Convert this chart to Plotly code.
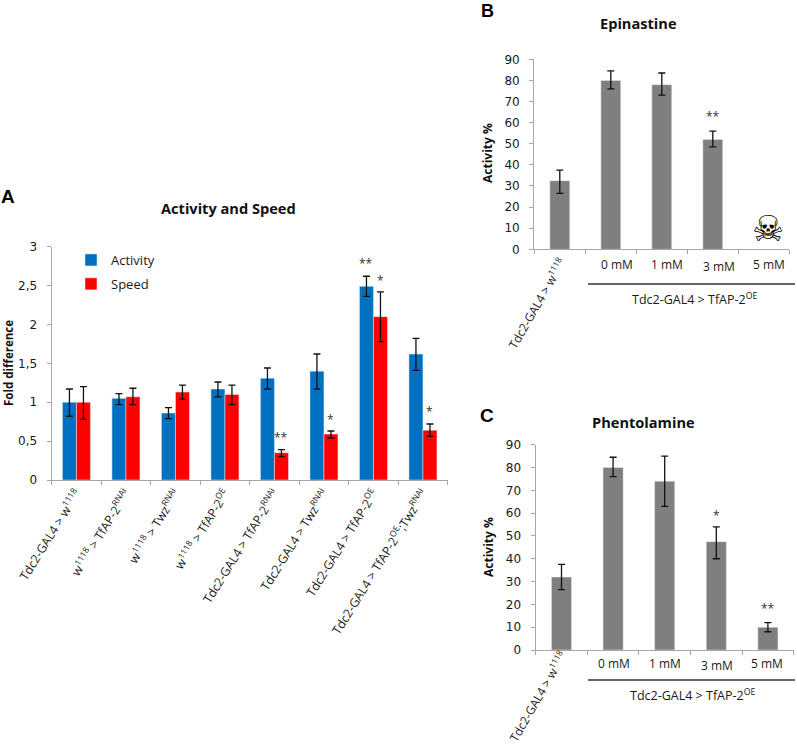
import plotly.graph_objects as go

W, H = 797, 750
# ---------- data ----------
genotypes = ["Tdc2-GAL4 > w<sup>1118</sup>", "w<sup>1118</sup> > TfAP-2<sup>RNAi</sup>", "w<sup>1118</sup> > Twz<sup>RNAi</sup>",
             "w<sup>1118</sup> > TfAP-2<sup>OE</sup>", "Tdc2-GAL4 > TfAP-2<sup>RNAi</sup>", "Tdc2-GAL4 > Twz<sup>RNAi</sup>",
             "Tdc2-GAL4 > TfAP-2<sup>OE</sup>", "Tdc2-GAL4 > TfAP-2<sup>OE</sup>;Twz<sup>RNAi</sup>"]
activity = [1.0, 1.05, 0.86, 1.17, 1.31, 1.40, 2.49, 1.62]
activity_hi = [1.17, 1.11, 0.93, 1.26, 1.44, 1.62, 2.62, 1.82]
activity_lo = [0.82, 0.97, 0.79, 1.07, 1.17, 1.17, 2.36, 1.41]
speed = [1.0, 1.07, 1.13, 1.10, 0.35, 0.59, 2.10, 0.64]
speed_hi = [1.20, 1.18, 1.22, 1.22, 0.39, 0.63, 2.42, 0.72]
speed_lo = [0.78, 0.97, 1.04, 0.97, 0.30, 0.54, 1.78, 0.56]

doses = ["Tdc2-GAL4 > w<sup>1118</sup>", "0 mM", "1 mM", "3 mM", "5 mM"]
epinastine = [32.5, 80, 78, 52, None]
epinastine_hi = [37.5, 84.5, 83.5, 56, None]
epinastine_lo = [26.5, 76, 73, 48.5, None]
phentolamine = [32, 80, 74, 47.5, 10]
phentolamine_hi = [37.5, 84.5, 85, 54, 12]
phentolamine_lo = [26.5, 76, 63, 40, 8]

BLUE, RED, GREY, AXIS = "#0070c0", "#ff0000", "#7f7f7f", "#a6a6a6"
TXT = "#1a1a1a"
TICK = "DejaVu Sans"
LAB = "Open Sans"


def px(x): return x / W
def py(y): return 1 - y / H


def err(vals, hi, lo, width):
    up = [None if v is None else round(h - v, 3) for v, h in zip(vals, hi)]
    dn = [None if v is None else round(v - l, 3) for v, l in zip(vals, lo)]
    return dict(type="data", symmetric=False, array=up, arrayminus=dn,
                color="#111111", thickness=1.3, width=width)


fig = go.Figure()
fig.add_bar(x=genotypes, y=activity, name="Activity", marker_color=BLUE, legendgroup="a",
            error_y=err(activity, activity_hi, activity_lo, 3.5), xaxis="x", yaxis="y")
fig.add_bar(x=genotypes, y=speed, name="Speed", marker_color=RED, legendgroup="s",
            error_y=err(speed, speed_hi, speed_lo, 3.5), xaxis="x", yaxis="y")
fig.add_bar(x=doses, y=epinastine, marker_color=GREY, showlegend=False, width=0.39,
            error_y=err(epinastine, epinastine_hi, epinastine_lo, 3.5), xaxis="x2", yaxis="y2")
fig.add_bar(x=doses, y=phentolamine, marker_color=GREY, showlegend=False, width=0.39,
            error_y=err(phentolamine, phentolamine_hi, phentolamine_lo, 3.5), xaxis="x3", yaxis="y3")

axis = dict(showline=True, linecolor=AXIS, linewidth=1.3, ticks="outside", tickcolor=AXIS, automargin=False,
            ticklen=4, tickwidth=1.2, showgrid=False, zeroline=False)
tickf = dict(family=TICK, size=12, color=TXT)
STANDOFF = 7

fig.update_layout(
    width=W, height=H, margin=dict(l=0, r=0, t=0, b=0, autoexpand=False), autosize=False,
    paper_bgcolor="white", plot_bgcolor="white", barmode="group", bargap=0.434, bargroupgap=0,
    showlegend=True,
    legend=dict(x=px(71), y=py(245), xanchor="left", yanchor="top", bgcolor="rgba(0,0,0,0)",
                traceorder="grouped", tracegroupgap=4, itemwidth=30,
                font=dict(family=LAB, size=13, color=TXT)),
    xaxis=dict(axis, domain=[px(51.7), px(447.7)], anchor="y", type="category", tickson="boundaries",
               categoryorder="array", categoryarray=genotypes, tickangle=-58,
               tickfont=dict(family=LAB, size=12.3, color=TXT)),
    yaxis=dict(axis, domain=[py(480), py(246.7)], anchor="x", range=[0, 3], tickvals=[0, .5, 1, 1.5, 2, 2.5, 3],
               ticktext=["0", "0,5", "1", "1,5", "2", "2,5", "3"], tickfont=tickf, ticklabelstandoff=STANDOFF),
    xaxis2=dict(axis, domain=[px(534.3), px(789.3)], anchor="y2", type="category", tickson="boundaries",
                categoryorder="array", categoryarray=doses, showticklabels=False),
    yaxis2=dict(axis, domain=[py(249.3), py(59.3)], anchor="x2", range=[0, 90], dtick=10, tickfont=tickf,
                ticklabelstandoff=STANDOFF),
    xaxis3=dict(axis, domain=[px(535.7), px(793.7)], anchor="y3", type="category", tickson="boundaries",
                categoryorder="array", categoryarray=doses, showticklabels=False),
    yaxis3=dict(axis, domain=[py(650), py(444.7)], anchor="x3", range=[0, 90], dtick=10, tickfont=tickf,
                ticklabelstandoff=STANDOFF),
)


def note(text, x, y, size=12, bold=False, color=TXT, family=LAB, angle=0):
    fig.add_annotation(text=text, x=px(x), y=py(y), xref="paper", yref="paper", showarrow=False,
                       xanchor="center", yanchor="middle", textangle=angle,
                       font=dict(family=family, size=size, color=color, weight="bold" if bold else "normal"))


def star(text, xr, yr, x, y):
    fig.add_annotation(text=text, x=x, y=y, xref=xr, yref=yr, showarrow=False,
                       xanchor="center", yanchor="middle",
                       font=dict(family=LAB, size=12, color="#333333"))


note("A", 8, 197, 19, True, "#000000", "Liberation Sans")
note("B", 487, 11, 18, True, "#000000", "Liberation Sans")
note("C", 487, 415, 19, True, "#000000", "Liberation Sans")
note("Activity and Speed", 229, 208, 14.6, True, "#111111")
note("Epinastine", 638, 23, 14.6, True, "#111111")
note("Phentolamine", 643, 422, 14.6, True, "#111111")
note("Fold difference", 8, 363, 11.5, True, "#111111", angle=-90)
note("Activity %", 488, 153, 12, True, "#111111", angle=-90)
note("Activity %", 488, 547, 12, True, "#111111", angle=-90)

# significance stars
OFF = 0.142
for t, i, o, v in [("**", 6, -OFF, 2.79), ("*", 6, OFF, 2.57), ("**", 4, OFF, 0.55),
                   ("*", 5, OFF, 0.78), ("*", 7, OFF, 0.88)]:
    star(t, "x", "y", i + o, v)
star("**", "x2", "y2", 3, 62.7)
star("*", "x3", "y3", 3, 58.9)
star("**", "x3", "y3", 4, 18)

# dose labels
for label, xb, yb, xc, yc in zip(doses[1:], [617, 667, 719, 769], [265, 265, 266, 265],
                                 [614, 665, 717, 767], [663, 663, 665, 663]):
    note(label, xb, yb, 12)
    note(label, xc, yc, 12)
note(doses[0], 537, 303, 12, angle=-60)
note(doses[0], 538, 696, 12, angle=-60)
note("Tdc2-GAL4 > TfAP-2<sup>OE</sup>", 694, 299, 12.5)
note("Tdc2-GAL4 > TfAP-2<sup>OE</sup>", 692, 695, 12.5)

# skull for the lethal dose
note("\u2620", 768, 228, 36, True, "#000000", "DejaVu Sans")

for yy in (284, 680):
    fig.add_shape(type="line", xref="paper", yref="paper", x0=px(588), x1=px(795), y0=py(yy), y1=py(yy),
                  line=dict(color="#333333", width=1.3))

fig.write_html("out.html", config={"displayModeBar": False}, post_script="document.body.style.margin='0';")
